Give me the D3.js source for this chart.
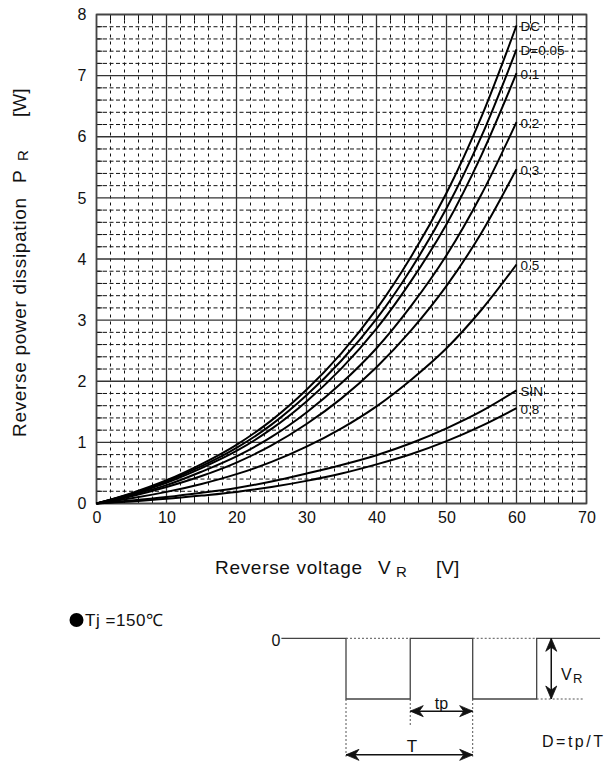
<!DOCTYPE html>
<html>
<head>
<meta charset="utf-8">
<script src="https://cdn.jsdelivr.net/npm/d3@7"></script>
<style>
  html, body { margin: 0; padding: 0; background: #fff; }
  svg { display: block; font-family: "Liberation Sans", Arial, sans-serif; }
</style>
</head>
<body>
<svg id="chart" width="611" height="778"></svg>
<script>
// Reverse voltage (V) sample points shared by every curve
const voltage = [0, 5, 10, 15, 20, 25, 30, 35, 40, 45, 50, 55, 60];

// Reverse power dissipation PR (W) for each duty condition
const pDC   = [0, 0.17, 0.38, 0.645, 0.96, 1.36, 1.86, 2.46, 3.18, 4.05, 5.08, 6.33, 7.82];
const pD005 = [0, 0.16, 0.36, 0.61, 0.91, 1.29, 1.77, 2.34, 3.02, 3.85, 4.83, 6.01, 7.43];
const pD01  = [0, 0.15, 0.34, 0.58, 0.86, 1.22, 1.67, 2.21, 2.86, 3.65, 4.57, 5.70, 7.04];
const pD02  = [0, 0.14, 0.30, 0.52, 0.77, 1.09, 1.49, 1.97, 2.54, 3.24, 4.06, 5.06, 6.24];
const pD03  = [0, 0.12, 0.27, 0.45, 0.67, 0.95, 1.30, 1.72, 2.23, 2.84, 3.56, 4.43, 5.47];
const pD05  = [0, 0.085, 0.19, 0.32, 0.48, 0.68, 0.93, 1.23, 1.59, 2.03, 2.54, 3.17, 3.91];
const pSIN  = [0, 0.048, 0.105, 0.175, 0.255, 0.36, 0.49, 0.63, 0.79, 0.99, 1.23, 1.51, 1.85];
const pD08  = [0, 0.034, 0.076, 0.13, 0.19, 0.27, 0.37, 0.49, 0.64, 0.81, 1.02, 1.27, 1.56];

const curveNames  = ["DC", "D=0.05", "0.1", "0.2", "0.3", "0.5", "SIN", "0.8"];
const curveValues = [pDC, pD005, pD01, pD02, pD03, pD05, pSIN, pD08];

// Axis ticks
const xTicks = [0, 10, 20, 30, 40, 50, 60, 70];
const yTicks = [0, 1, 2, 3, 4, 5, 6, 7, 8];

const svg = d3.select("#chart");
const x = d3.scaleLinear().domain([0, 70]).range([96.5, 586.5]);
const y = d3.scaleLinear().domain([0, 8]).range([503.5, 14.5]);

// ---- grid ----
const grid = svg.append("g");
const minorX = d3.range(0, 70.001, 2).filter(v => v % 10 !== 0);
const minorY = d3.range(0, 8.001, 0.2).map(v => +v.toFixed(1)).filter(v => Math.abs(v - Math.round(v)) > 1e-6);

grid.selectAll(".mx").data(minorX).join("line")
  .attr("x1", d => x(d)).attr("x2", d => x(d))
  .attr("y1", y(8)).attr("y2", y(0))
  .attr("stroke", "#111").attr("stroke-width", 1)
  .attr("stroke-dasharray", "3,4").attr("stroke-dashoffset", -6);
grid.selectAll(".my").data(minorY).join("line")
  .attr("x1", x(0)).attr("x2", x(70))
  .attr("y1", d => y(d)).attr("y2", d => y(d))
  .attr("stroke", "#111").attr("stroke-width", 1)
  .attr("stroke-dasharray", "4,2.5");

// inward ticks along the frame at minor positions
grid.selectAll(".tt").data(minorX).join("line")
  .attr("x1", d => x(d)).attr("x2", d => x(d))
  .attr("y1", y(8)).attr("y2", y(8) + 6)
  .attr("stroke", "#111").attr("stroke-width", 1);
grid.selectAll(".tb").data(minorX).join("line")
  .attr("x1", d => x(d)).attr("x2", d => x(d))
  .attr("y1", y(0)).attr("y2", y(0) - 6)
  .attr("stroke", "#111").attr("stroke-width", 1);
grid.selectAll(".tl").data(minorY).join("line")
  .attr("x1", x(0)).attr("x2", x(0) + 6)
  .attr("y1", d => y(d)).attr("y2", d => y(d))
  .attr("stroke", "#111").attr("stroke-width", 1);
grid.selectAll(".tr").data(minorY).join("line")
  .attr("x1", x(70)).attr("x2", x(70) - 6)
  .attr("y1", d => y(d)).attr("y2", d => y(d))
  .attr("stroke", "#111").attr("stroke-width", 1);

// major grid
grid.selectAll(".gx").data(xTicks).join("line")
  .attr("x1", d => x(d)).attr("x2", d => x(d))
  .attr("y1", y(8)).attr("y2", y(0))
  .attr("stroke", "#333").attr("stroke-width", 1.3);
grid.selectAll(".gy").data(yTicks).join("line")
  .attr("x1", x(0)).attr("x2", x(70))
  .attr("y1", d => y(d)).attr("y2", d => y(d))
  .attr("stroke", "#333").attr("stroke-width", 1.3);
grid.append("rect")
  .attr("x", x(0)).attr("y", y(8))
  .attr("width", x(70) - x(0)).attr("height", y(0) - y(8))
  .attr("fill", "none").attr("stroke", "#444").attr("stroke-width", 1.6);

// ---- axes (labels only) ----
const xAxis = svg.append("g")
  .attr("transform", `translate(0,${y(0) + 5})`)
  .call(d3.axisBottom(x).tickValues(xTicks).tickSize(0).tickPadding(3));
const yAxis = svg.append("g")
  .attr("transform", `translate(${x(0) - 8},0)`)
  .call(d3.axisLeft(y).tickValues(yTicks).tickSize(0).tickPadding(2));
[xAxis, yAxis].forEach(a => {
  a.select(".domain").remove();
  a.selectAll("text").attr("font-size", 16).attr("fill", "#111")
    .attr("font-family", "Liberation Sans, Arial, sans-serif");
});

// ---- curves ----
const line = d3.line()
  .x((d, i) => x(voltage[i]))
  .y(d => y(d))
  .curve(d3.curveCatmullRom.alpha(0.5));

svg.append("g").selectAll("path").data(curveValues).join("path")
  .attr("d", d => line(d))
  .attr("fill", "none")
  .attr("stroke", "#000")
  .attr("stroke-width", 2);

svg.append("g").selectAll("text").data(curveValues).join("text")
  .attr("x", x(voltage[voltage.length - 1]) + 4)
  .attr("y", d => y(d[d.length - 1]) + 2)
  .attr("dominant-baseline", "middle")
  .attr("font-size", 13.5)
  .attr("fill", "#111")
  .text((d, i) => curveNames[i]);

// ---- axis titles ----
const xt = svg.append("g").attr("fill", "#111");
xt.append("text").attr("x", 215).attr("y", 574).attr("font-size", 19)
  .attr("textLength", 147).attr("lengthAdjust", "spacing").text("Reverse voltage");
xt.append("text").attr("x", 378).attr("y", 574).attr("font-size", 19).text("V");
xt.append("text").attr("x", 396).attr("y", 577).attr("font-size", 15).text("R");
xt.append("text").attr("x", 436).attr("y", 574).attr("font-size", 19).text("[V]");

const yt = svg.append("g").attr("fill", "#111")
  .attr("transform", "translate(26,0) rotate(-90)");
yt.append("text").attr("x", -437).attr("y", 0).attr("font-size", 19)
  .attr("textLength", 239).attr("lengthAdjust", "spacing").text("Reverse power dissipation");
yt.append("text").attr("x", -183).attr("y", 0).attr("font-size", 19).text("P");
yt.append("text").attr("x", -161).attr("y", 2).attr("font-size", 15).text("R");
yt.append("text").attr("x", -117).attr("y", 0).attr("font-size", 19).text("[W]");

// ---- test condition ----
svg.append("circle").attr("cx", 76.5).attr("cy", 620).attr("r", 7).attr("fill", "#000");
svg.append("text").attr("x", 85).attr("y", 626).attr("font-size", 17).attr("fill", "#111")
  .attr("textLength", 78).attr("lengthAdjust", "spacing").text("Tj =150℃");

// ---- duty-cycle waveform ----
const tS = d3.scaleLinear().domain([0, 1]).range([346, 472.7]);   // one period T
const lv = d3.scaleLinear().domain([0, 1]).range([638.3, 699]);   // 0 level / -VR level
const tStart = -0.51, tRise1 = 0.507, tFall = 1, tRise2 = 1.505, tEnd = 2.005;

const wave = svg.append("g").attr("fill", "none");
const wavePts = [[tStart, 0], [0, 0], [0, 1], [tRise1, 1], [tRise1, 0], [tFall, 0],
                 [tFall, 1], [tRise2, 1], [tRise2, 0], [tEnd, 0]];
wave.append("path")
  .attr("d", d3.line().x(d => tS(d[0])).y(d => lv(d[1]))(wavePts))
  .attr("stroke", "#444").attr("stroke-width", 1.3);

const dotted = [
  [[0, 0], [tRise1, 0]],
  [[tFall, 0], [tRise2, 0]],
  [[tRise2, 1], [1.87, 1]],
  [[0, 1], [0, 1.95]],
  [[tRise1, 1], [tRise1, 1.46]],
  [[tFall, 1], [tFall, 1.95]]
];
wave.selectAll(".dot").data(dotted).join("path")
  .attr("d", d => d3.line().x(p => tS(p[0])).y(p => lv(p[1]))(d))
  .attr("stroke", "#555").attr("stroke-width", 1).attr("stroke-dasharray", "2,2");

// double-headed arrows
function arrowHead(g, px, py, ang) {
  const L = 13, W = 5.5;
  const r = ang * Math.PI / 180;
  const c = Math.cos(r), s = Math.sin(r);
  const pt = (u, v) => [px + u * c - v * s, py + u * s + v * c];
  const p = [pt(0, 0), pt(-L, -W), pt(-L + 4, 0), pt(-L, W)];
  g.append("path").attr("d", "M" + p.map(q => q.join(",")).join("L") + "Z")
    .attr("fill", "#111").attr("stroke", "#111").attr("stroke-width", 0.8);
}
function dblArrow(x1, y1, x2, y2) {
  const g = svg.append("g");
  g.append("line").attr("x1", x1).attr("y1", y1).attr("x2", x2).attr("y2", y2)
    .attr("stroke", "#111").attr("stroke-width", 1.5);
  const ang = Math.atan2(y2 - y1, x2 - x1) * 180 / Math.PI;
  arrowHead(g, x2, y2, ang);
  arrowHead(g, x1, y1, ang + 180);
}
dblArrow(tS(tRise1), lv(1.2), tS(tFall), lv(1.2));              // tp
dblArrow(tS(0), lv(1.92), tS(tFall), lv(1.92));                 // T
dblArrow(tS(1.62), lv(0), tS(1.62), lv(1));                     // VR

const lab = svg.append("g").attr("fill", "#111");
lab.append("text").attr("x", 276).attr("y", 646).attr("font-size", 16)
  .attr("text-anchor", "middle").text("0");
lab.append("text").attr("x", tS((tRise1 + tFall) / 2)).attr("y", 709).attr("font-size", 16)
  .attr("text-anchor", "middle").text("tp");
lab.append("text").attr("x", tS(0.52)).attr("y", 752).attr("font-size", 17)
  .attr("text-anchor", "middle").text("T");
lab.append("text").attr("x", 561).attr("y", 680).attr("font-size", 16).text("V");
lab.append("text").attr("x", 573).attr("y", 683).attr("font-size", 13).text("R");
lab.append("text").attr("x", 542).attr("y", 747).attr("font-size", 16)
  .attr("textLength", 61).attr("lengthAdjust", "spacing").text("D=tp/T");
</script>
</body>
</html>
